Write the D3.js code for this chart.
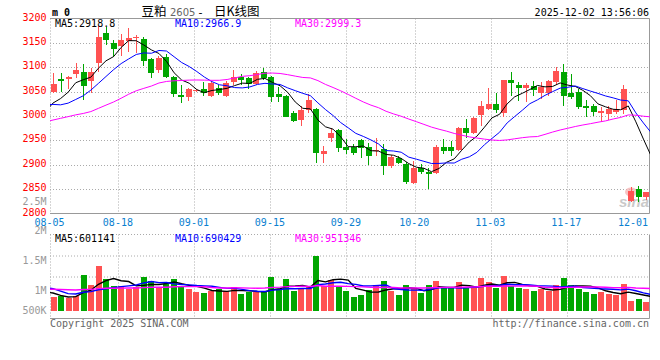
<!DOCTYPE html>
<html><head><meta charset="utf-8">
<script src="https://cdn.jsdelivr.net/npm/d3@7"></script>
<style>html,body{margin:0;padding:0;background:#fff}svg{display:block}</style>
</head><body>
<svg id="c" width="660" height="360"></svg>
<script>
// ---------------- DATA ----------------
const dates = ["08-05","08-06","08-07","08-08","08-11","08-12","08-13","08-14","08-15","08-18",
"08-19","08-20","08-21","08-22","08-25","08-26","08-27","08-28","08-29","09-01",
"09-02","09-03","09-04","09-05","09-08","09-09","09-10","09-11","09-12","09-15",
"09-16","09-17","09-18","09-19","09-22","09-23","09-24","09-25","09-26","09-29",
"09-30","10-09","10-10","10-13","10-14","10-15","10-16","10-17","10-20","10-21",
"10-22","10-23","10-24","10-27","10-28","10-29","10-30","10-31","11-03","11-04",
"11-05","11-06","11-07","11-10","11-11","11-12","11-13","11-14","11-17","11-18",
"11-19","11-20","11-21","11-24","11-25","11-26","11-27","11-28","12-01","12-02"];
const open = [3050,3076,3075,3086,3091,3071,3108,3170,3150,3144,
3153,3159,3158,3116,3095,3122,3081,3043,3038,3052,
3055,3041,3057,3041,3070,3080,3078,3066,3090,3081,
3046,3041,3006,2992,3012,3014,2923,2955,2972,2936,
2936,2950,2936,2929,2933,2897,2913,2901,2863,2894,
2886,2884,2936,2936,2930,2975,2966,3002,3014,3024,
3007,3073,3064,3057,3061,3048,3048,3069,3091,3048,
3049,3021,3021,3007,3004,3009,3012,2826,2850,2834];
const high = [3089,3089,3082,3108,3107,3099,3185,3183,3155,3168,
3180,3166,3163,3118,3124,3127,3083,3064,3057,3055,
3070,3072,3063,3072,3095,3086,3079,3092,3098,3083,
3060,3043,3011,3021,3045,3017,2938,2975,2973,2952,
2943,2952,2945,2954,2942,2921,2918,2906,2908,2901,
2894,2940,2952,2948,2978,2994,2997,3030,3058,3048,
3074,3090,3069,3067,3071,3069,3074,3100,3107,3087,
3056,3032,3024,3019,3021,3032,3063,2855,2857,2845];
const low = [3048,3049,3056,3078,3032,3048,3090,3146,3122,3123,
3131,3130,3103,3078,3088,3078,3040,3026,3030,3050,
3041,3038,3044,3040,3064,3064,3056,3063,3073,3029,
3028,2997,2988,2979,3007,2904,2904,2947,2926,2923,
2921,2914,2899,2918,2879,2894,2901,2860,2860,2881,
2850,2881,2923,2918,2928,2955,2963,2980,3012,3007,
2997,3041,3031,3029,3041,3034,3041,3063,3021,3034,
3014,2997,3000,2987,2992,3005,3005,2823,2824,2827];
const close = [3065,3071,3080,3095,3061,3091,3163,3156,3138,3155,
3161,3162,3112,3088,3118,3080,3045,3038,3055,3053,
3048,3068,3047,3068,3081,3073,3065,3089,3078,3039,
3039,2998,2990,3013,3033,2925,2928,2966,2935,2931,
2925,2935,2918,2931,2897,2916,2903,2865,2894,2886,
2881,2936,2929,2928,2975,2966,2995,3021,3024,3012,
3073,3067,3057,3063,3053,3059,3071,3093,3041,3039,
3019,3016,3009,3011,3014,3014,3055,2846,2834,2844];
const volume = [574000,630000,546000,616000,1498000,1078000,1876000,1330000,1036000,1036000,
910000,994000,1414000,1246000,994000,1120000,1330000,1036000,910000,784000,
742000,826000,938000,826000,994000,700000,784000,784000,784000,1414000,
910000,1330000,826000,910000,1036000,2310000,1036000,1288000,1036000,826000,
574000,658000,868000,1078000,1246000,826000,658000,1078000,952000,742000,
1078000,1246000,952000,952000,1204000,952000,952000,1372000,1204000,952000,
1456000,1036000,952000,910000,826000,910000,826000,1078000,1372000,1078000,
910000,784000,700000,784000,700000,658000,1120000,406000,490000,378000];
// sessions before 08-05 (off the left edge), only needed to start the moving averages
const priorClose = [2960,2965,2976,2985,2976,2975,2964,2958,2946,2922,2914,2950,2964,2945,2931,
2985,3003,3020,3032,3045,3057,3080,3045,3020,2985,2975,3025,3015,2998,3030];
const priorVolume = [900000,850000,920000,1010000,780000,880000,950000,870000,1120000,830000,
760000,900000,980000,850000,940000,1050000,800000,870000,910000,830000,
870000,1700000,1580000,800000,760000,790000,1115000,901000,536000,654000];
const priceTicks = [2800,2850,2900,2950,3000,3050,3100,3150,3200];
const dateTicks = ["08-05","08-18","09-01","09-15","09-29","10-20","11-03","11-17","12-01"];
const volTicks = [2500000,2000000,1500000,1000000,500000];
const volTickText = ["2.5M","2M","1.5M","1M","500K"];
const maPeriods = [5,10,30];
const priceLegend = ["MA5:2918.8","MA10:2966.9","MA30:2999.3"];
const volLegend = ["MA5:601141","MA10:690429","MA30:951346"];
const titleName = "豆粕", titleCode = "2605", titleKind = "日K线图";
const stamp = "2025-12-02 13:56:06";

// ---------------- LAYOUT ----------------
const L=50, R=650, pTop=18.5, pBot=213.5, vTop=234.5, vBot=318.5;
const RED="#ff5252", GREEN="#00a600";
const maColors=["#000","#0000ff","#ff00ff"];
const MONO="'DejaVu Sans Mono', monospace";
const n=close.length, idx=d3.range(n);
const svg=d3.select("#c");

const xBand=d3.scaleBand().domain(idx).range([L,R]).paddingInner(0.2).paddingOuter(0.1);
const bw=xBand.bandwidth();
const xLine=d3.scaleLinear().domain([0,n-1]).range([53,651]);
const dateIndex=d=>dates.indexOf(d);
const xGrid=d3.scaleLinear().domain([0,dateIndex("12-01")]).range([L,642.8]);
const yP=d3.scaleLinear().domain([2800,3200]).range([pBot,pTop]);
const yV=d3.scaleLinear().domain([0,2500000]).range([311,251.5]);
const yVLab=d3.scaleLinear().domain([500000,2500000]).range([320,201]);
const px=v=>Math.round(v)+0.5;

function movingAvg(series, prior, p){
  const all=prior.concat(series), off=prior.length;
  return d3.range(-1,n).map(i=>({i, v:d3.mean(all.slice(i+off-p+1,i+off+1))}));
}

const defs=svg.append("defs");
defs.append("clipPath").attr("id","cp").append("rect").attr("x",L).attr("y",pTop).attr("width",R-L).attr("height",pBot-pTop);
defs.append("clipPath").attr("id","cv").append("rect").attr("x",L).attr("y",vTop).attr("width",R-L).attr("height",vBot-vTop);

const grid=svg.append("g").attr("stroke","#aaa").attr("stroke-dasharray","1,2").attr("fill","none");
// price horizontal grid
grid.selectAll(".hp").data(priceTicks.filter(t=>t>2800&&t<3200)).join("line")
  .attr("x1",L).attr("x2",R).attr("y1",d=>px(yP(d))).attr("y2",d=>px(yP(d)));
// vertical grid (both panels)
const vg=dateTicks.slice(1,-1);
grid.selectAll(".vp").data(vg).join("line")
  .attr("x1",d=>px(xGrid(dateIndex(d)))).attr("x2",d=>px(xGrid(dateIndex(d)))).attr("y1",pTop).attr("y2",pBot);
grid.selectAll(".vv").data(vg).join("line").attr("class","vv")
  .attr("x1",d=>px(xGrid(dateIndex(d)))).attr("x2",d=>px(xGrid(dateIndex(d)))).attr("y1",vTop).attr("y2",vBot);
// volume panel grid (quarters)
grid.selectAll(".hv").data([0.25,0.5]).join("line").attr("class","hv")
  .attr("x1",L).attr("x2",R).attr("y1",d=>px(vTop+(vBot-vTop)*d)-0.5).attr("y2",d=>px(vTop+(vBot-vTop)*d)-0.5);
// dotted borders
grid.append("line").attr("x1",L+0.5).attr("x2",L+0.5).attr("y1",pTop).attr("y2",pBot);
grid.append("line").attr("x1",L+0.5).attr("x2",L+0.5).attr("y1",vTop).attr("y2",vBot);
grid.append("line").attr("x1",L).attr("x2",R).attr("y1",vTop).attr("y2",vTop);

// solid borders
const bd=svg.append("g").attr("stroke","#999").attr("fill","none");
bd.append("path").attr("d",`M${L},${pTop}H${R-0.5}V${pBot}H${L}`);
bd.append("path").attr("d",`M${R-0.5},${vTop}V${vBot}H${L}`);

// watermark
const wm=svg.append("g").attr("opacity",0.75);
wm.append("ellipse").attr("cx",631).attr("cy",192).attr("rx",6).attr("ry",4.5).attr("fill","#f6b0b0");
wm.append("text").attr("x",619).attr("y",207).attr("font-family","'Liberation Sans',Arial").attr("font-style","italic")
  .attr("font-weight","bold").attr("font-size",15).attr("fill","#b8b8b8").text("sina");

// candles
const cg=svg.append("g").attr("clip-path","url(#cp)").attr("shape-rendering","crispEdges");
const col=i=>close[i]>=open[i]?RED:GREEN;
cg.selectAll(".wk").data(idx).join("line")
  .attr("x1",i=>Math.floor(xBand(i)+bw/2)+0.5).attr("x2",i=>Math.floor(xBand(i)+bw/2)+0.5)
  .attr("y1",i=>yP(high[i])).attr("y2",i=>yP(low[i])).attr("stroke",col);
cg.selectAll(".bd").data(idx).join("rect")
  .attr("x",i=>Math.round(xBand(i))).attr("width",Math.round(bw))
  .attr("y",i=>yP(Math.max(open[i],close[i])))
  .attr("height",i=>Math.max(1,Math.abs(yP(open[i])-yP(close[i]))))
  .attr("fill",col);

// price MAs
const pl=svg.append("g").attr("clip-path","url(#cp)").attr("fill","none");
const line=d3.line().x(d=>xLine(d.i));
maPeriods.forEach((p,k)=>{
  pl.append("path").datum(movingAvg(close,priorClose,p))
    .attr("d",line.y(d=>yP(d.v))).attr("stroke",maColors[k]).attr("stroke-width",1);
});

// volume bars
const vb=svg.append("g").attr("clip-path","url(#cv)").attr("shape-rendering","crispEdges");
vb.selectAll("rect").data(idx).join("rect")
  .attr("x",i=>Math.round(xBand(i))).attr("width",Math.round(bw))
  .attr("y",i=>yV(volume[i])).attr("height",i=>yV(0)-yV(volume[i])).attr("fill",col);
const vl=svg.append("g").attr("clip-path","url(#cv)").attr("fill","none");
maPeriods.forEach((p,k)=>{
  vl.append("path").datum(movingAvg(volume,priorVolume,p))
    .attr("d",d3.line().x(d=>xLine(d.i)).y(d=>yV(d.v))).attr("stroke",maColors[k]).attr("stroke-width",1.4);
});

// ---------------- TEXT ----------------
const T=svg.append("g").attr("font-family",MONO).attr("font-size",10);
// price axis labels
T.selectAll(".pl").data(priceTicks).join("text").attr("x",46.5).attr("y",d=>yP(d)+2)
  .attr("text-anchor","end").attr("fill","#f00").text(d=>d);
// volume axis labels
T.selectAll(".vlab").data(volTicks).join("text").attr("x",46.5)
  .attr("y",d=>Math.min(yVLab(d),310.5)+3.6).attr("text-anchor","end").attr("fill","#999")
  .text((d,i)=>volTickText[i]);
// date labels
T.selectAll(".dl").data(dateTicks).join("text")
  .attr("x",(d,i)=>i===dateTicks.length-1?648:xGrid(dateIndex(d))-0.5)
  .attr("text-anchor",(d,i)=>i===dateTicks.length-1?"end":"middle")
  .attr("y",225.5).attr("fill","#0a7fd0").text(d=>d);
// legends
const legX=[55,175,295];
T.selectAll(".lg").data(priceLegend).join("text").attr("x",(d,i)=>legX[i]).attr("y",27)
  .attr("fill",(d,i)=>maColors[i]).text(d=>d);
T.selectAll(".lv").data(volLegend).join("text").attr("x",(d,i)=>legX[i]).attr("y",242)
  .attr("fill",(d,i)=>maColors[i]).text(d=>d);
// header
T.append("text").attr("x",52).attr("y",15.5).attr("font-weight","bold").attr("fill","#000").text("m 0");
T.append("text").attr("x",649).attr("y",16).attr("text-anchor","end").attr("fill","#000").text(stamp);
const tt=svg.append("text").attr("y",15.5).attr("font-family","'Noto Sans CJK SC'").attr("font-size",12.5).attr("fill","#000");
tt.append("tspan").attr("x",141.5).text(titleName);
tt.append("tspan").attr("x",170).attr("font-family","'DejaVu Sans'").attr("font-size",10).attr("fill","#666").text(titleCode);
tt.append("tspan").attr("x",198.5).attr("font-family","'DejaVu Sans'").attr("font-size",11).text("-");
tt.append("tspan").attr("x",214).text(titleKind);
// footer
T.append("text").attr("x",50).attr("y",327).attr("fill","#666").text("Copyright 2025 SINA.COM");
T.append("text").attr("x",649).attr("y",327).attr("text-anchor","end").attr("fill","#666").text("http://finance.sina.com.cn");
</script>
</body></html>
